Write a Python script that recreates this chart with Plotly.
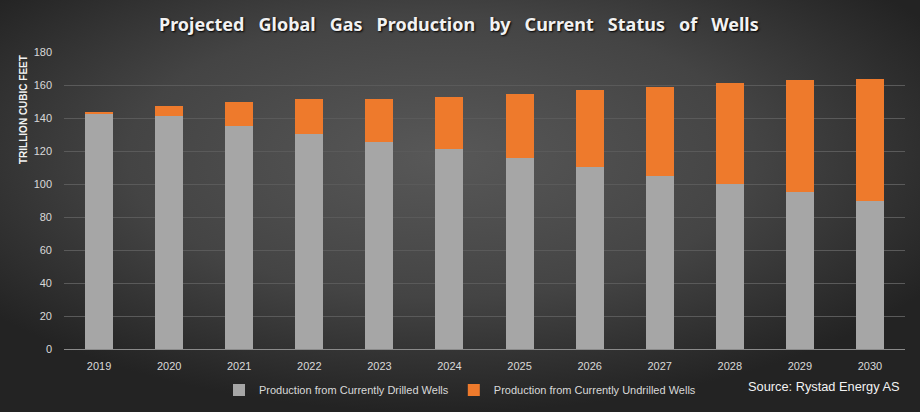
import plotly.graph_objects as go
import urllib.parse

years = ["2019", "2020", "2021", "2022", "2023", "2024", "2025", "2026", "2027", "2028", "2029", "2030"]
drilled = [143.0, 141.4, 135.3, 130.5, 125.6, 121.4, 116.0, 110.5, 105.0, 100.2, 95.3, 89.9]
total = [143.8, 147.5, 149.9, 151.7, 151.7, 152.9, 154.7, 157.2, 159.0, 161.4, 163.2, 163.8]
undrilled = [round(t - d, 1) for t, d in zip(total, drilled)]
yticks = [0, 20, 40, 60, 80, 100, 120, 140, 160, 180]

W, H = 920, 412
svg = (
    f'<svg xmlns="http://www.w3.org/2000/svg" width="{W}" height="{H}">'
    '<defs><radialGradient id="g" cx="0.48" cy="0.38" r="0.62" gradientUnits="objectBoundingBox">'
    '<stop offset="0" stop-color="#585858"/>'
    '<stop offset="0.55" stop-color="#444444"/>'
    '<stop offset="1" stop-color="#232323"/>'
    '</radialGradient></defs>'
    f'<rect width="{W}" height="{H}" fill="url(#g)"/></svg>'
)
bg_src = "data:image/svg+xml;charset=utf-8," + urllib.parse.quote(svg)

font_narrow = "Liberation Sans Narrow, Arial Narrow, Liberation Sans, sans-serif"
title_words = ["Projected", "Global", "Gas", "Production", "by", "Current", "Status", "of", "Wells"]
title_text = "&nbsp;&nbsp; ".join(title_words)

fig = go.Figure()
fig.add_trace(go.Bar(
    x=years, y=drilled, name="Production from Currently Drilled Wells",
    marker=dict(color="#A6A6A6", line=dict(width=0)),
))
fig.add_trace(go.Bar(
    x=years, y=undrilled, name="Production from Currently Undrilled Wells",
    marker=dict(color="#EE7A2C", line=dict(width=0)),
))

fig.update_layout(
    width=W, height=H,
    barmode="stack", bargap=0.6,
    margin=dict(l=0, r=0, t=0, b=0),
    paper_bgcolor="#333333", plot_bgcolor="rgba(0,0,0,0)",
    images=[dict(source=bg_src, xref="paper", yref="paper", x=0, y=1,
                 sizex=1, sizey=1, xanchor="left", yanchor="top",
                 sizing="stretch", layer="below")],
    xaxis=dict(domain=[64 / W, 905 / W], tickfont=dict(family=font_narrow, size=11, color="#D9D9D9"),
               showgrid=False, showline=True, linecolor="#8A8A8A", linewidth=1,
               ticks="", ticklabelstandoff=6, automargin=False),
    yaxis=dict(domain=[1 - 349.3 / H, 1 - 52.3 / H], range=[0, 180], tickvals=yticks,
               tickfont=dict(family=font_narrow, size=11, color="#D9D9D9"),
               showgrid=True, gridcolor="#5A5A5A", gridwidth=1, zeroline=False,
               ticks="", ticklabelstandoff=11, automargin=False),
    showlegend=True,
    legend=dict(orientation="h", x=0.5, xanchor="center", y=1 - 390 / H, yanchor="middle",
                font=dict(family=font_narrow, size=11, color="#D9D9D9"),
                bgcolor="rgba(0,0,0,0)", traceorder="normal", itemwidth=30),
    annotations=[
        dict(text=title_text,
             xref="paper", yref="paper", x=459 / W, y=1 - 24 / H, showarrow=False,
             font=dict(family="Noto Sans", size=18, color="#F2F2F2", weight="bold",
                       shadow="1px 1px 2px #000000"),
             xanchor="center", yanchor="middle"),
        dict(text="TRILLION CUBIC FEET", xref="paper", yref="paper", x=23 / W, y=1 - 110 / H,
             showarrow=False, textangle=-90,
             font=dict(family="Liberation Sans", size=10, color="#F2F2F2", weight="bold"),
             xanchor="center", yanchor="middle"),
        dict(text="Source: Rystad Energy AS", xref="paper", yref="paper", x=902 / W, y=1 - 386 / H,
             showarrow=False, font=dict(family=font_narrow, size=12.8, color="#F2F2F2"),
             xanchor="right", yanchor="middle"),
    ],
)

fig.write_html("out.html", config={"displayModeBar": False},
               post_script="document.body.style.margin='0';document.body.style.overflow='hidden';")
